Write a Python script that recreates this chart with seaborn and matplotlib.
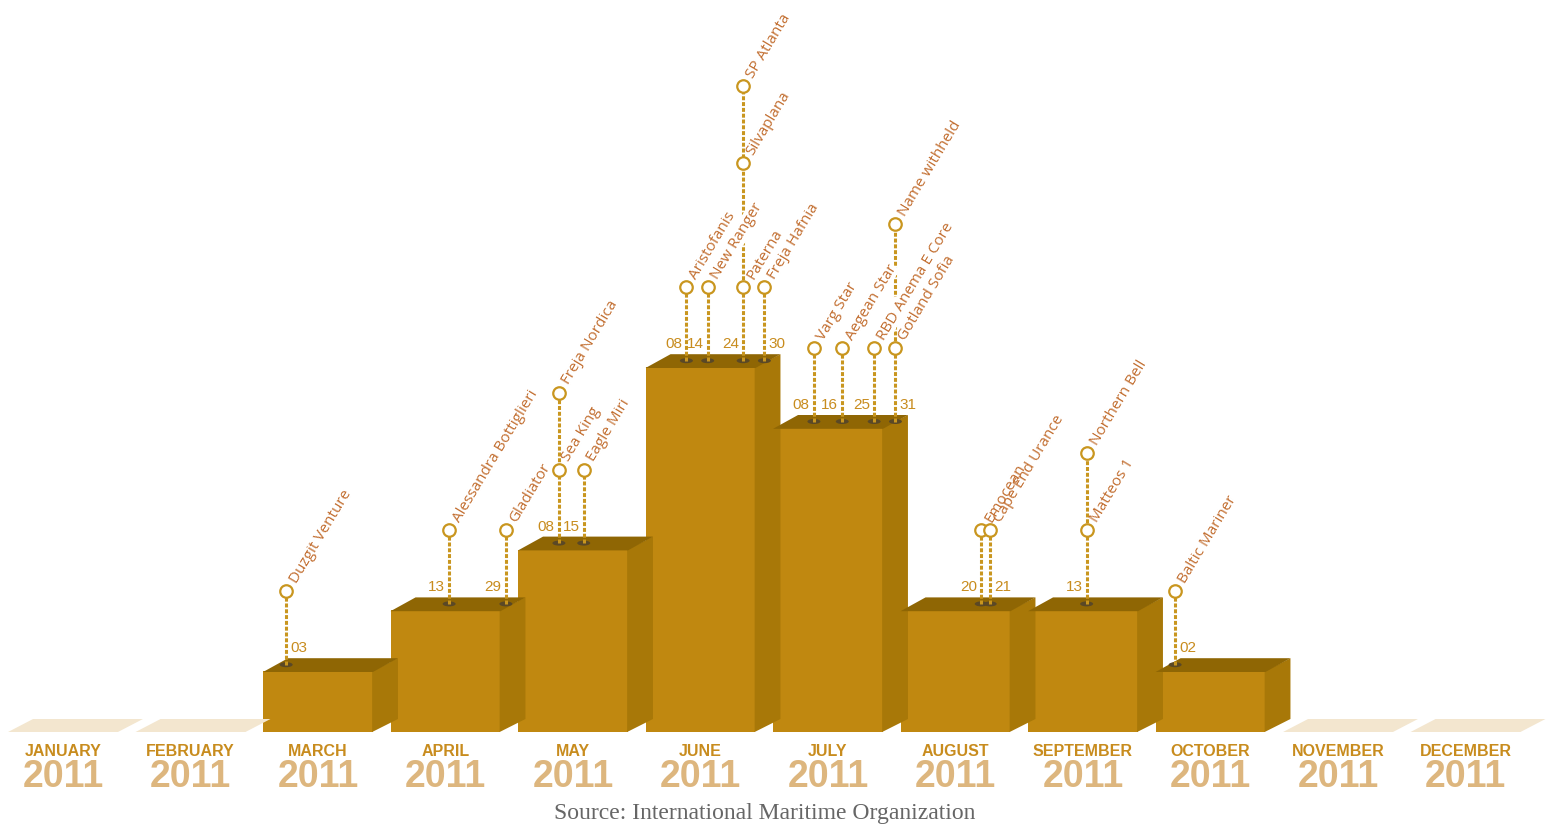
import numpy as np
import pandas as pd
import matplotlib
matplotlib.use("Agg")
import matplotlib.pyplot as plt
import seaborn as sns
from matplotlib.patches import Polygon, Ellipse
import matplotlib.patheffects as pe

# ---------------- data ----------------
months = ["JANUARY", "FEBRUARY", "MARCH", "APRIL", "MAY", "JUNE", "JULY",
          "AUGUST", "SEPTEMBER", "OCTOBER", "NOVEMBER", "DECEMBER"]
year_label = "2011"
hijack_counts = [0, 0, 1, 2, 3, 6, 5, 2, 2, 1, 0, 0]
ship_names = ["Duzgit Venture", "Alessandra Bottiglieri", "Gladiator", "Sea King",
              "Freja Nordica", "Eagle Miri", "Aristofanis", "New Ranger", "Paterna",
              "Silvaplana", "SP Atlanta", "Freja Hafnia", "Varg Star", "Aegean Star",
              "RBD Anema E Core", "Gotland Sofia", "Name withheld", "Emocean",
              "Cape End Urance", "Matteos 1", "Northern Bell", "Baltic Mariner"]
ship_months = ["MARCH", "APRIL", "APRIL", "MAY", "MAY", "MAY", "JUNE", "JUNE", "JUNE",
               "JUNE", "JUNE", "JUNE", "JULY", "JULY", "JULY", "JULY", "JULY",
               "AUGUST", "AUGUST", "SEPTEMBER", "SEPTEMBER", "OCTOBER"]
ship_days = [3, 13, 29, 8, 8, 15, 8, 14, 24, 24, 24, 30, 8, 16, 25, 31, 31, 20, 21, 13, 13, 2]
source_text = "Source: International Maritime Organization"

# ---------------- style ----------------
FRONT = "#c08810"
TOP = "#8f6604"
SIDE = "#a87808"
BEIGE = "#f3e6cf"
MONTH_C = "#c88c1e"
YEAR_C = "#ddb67e"
NAME_C = "#c26e30"
STALK_C = "#c9961f"
BASE_C = "#5a4826"

W, H = 1563, 834
PX_X, PX_Y = 127.5, 60.8
X0_PX, BASE_PX = 63, 732

sns.set_theme(style="white")
plt.rcParams["font.family"] = ["Liberation Sans", "DejaVu Sans"]

fig = plt.figure(figsize=(W / 100, H / 100), dpi=100)
ax = fig.add_axes([0, 0, 1, 1])
df = pd.DataFrame({"month": months, "count": hijack_counts})
sns.barplot(data=df, x="month", y="count", order=months, width=0.862,
            color=FRONT, saturation=1, linewidth=0, ax=ax, zorder=1)
ax.set_xlim(-X0_PX / PX_X, (W - X0_PX) / PX_X)
ax.set_ylim(-(H - BASE_PX) / PX_Y, BASE_PX / PX_Y)
ax.axis("off")

DX, DY = 25 / PX_X, 13 / PX_Y
EPS_X, EPS_Y = 0.8 / PX_X, 0.8 / PX_Y
bars = list(ax.patches)
for bar in bars:
    x0, w, h = bar.get_x(), bar.get_width(), bar.get_height()
    x1 = x0 + w
    if h > 0:
        ax.add_patch(Polygon([(x1 - EPS_X, 0), (x1 + DX, DY), (x1 + DX, h + DY),
                              (x1 - EPS_X, h)],
                             closed=True, facecolor=SIDE, edgecolor="none", zorder=1.5))
        ax.add_patch(Polygon([(x0, h - EPS_Y), (x1, h - EPS_Y), (x1 + DX, h + DY),
                              (x0 + DX, h + DY)],
                             closed=True, facecolor=TOP, edgecolor="none", zorder=1.6))
    else:
        ax.add_patch(Polygon([(x0, 0), (x1, 0), (x1 + DX, DY), (x0 + DX, DY)],
                             closed=True, facecolor=BEIGE, edgecolor="none", zorder=1.6))

# month / year labels
for bar, m in zip(bars, months):
    cx = bar.get_x() + bar.get_width() / 2
    ax.text(cx, -19 / PX_Y, m, ha="center", va="center", fontsize=11.5,
            fontweight="bold", color=MONTH_C)
    ax.text(cx, -45 / PX_Y, year_label, ha="center", va="center", fontsize=27,
            fontweight="bold", color=YEAR_C)

ax.text(5.5, -81 / PX_Y, source_text, ha="center", va="center", fontsize=17,
        color="#666666", family=["Liberation Serif", "DejaVu Serif"])

# ship events
month_idx = {m: i for i, m in enumerate(months)}
groups = {}
for name, m, d in zip(ship_names, ship_months, ship_days):
    groups.setdefault((m, d), []).append(name)

# stalk x positions (day within the month), pushed apart when too close
stalk_x = {}
for (m, d) in groups:
    bar = bars[month_idx[m]]
    stalk_x[(m, d)] = bar.get_x() + bar.get_width() * d / 31 + DX / 2
MIN_SEP = 9 / PX_X
keys = sorted(stalk_x, key=lambda k: stalk_x[k])
for a, b in zip(keys[:-1], keys[1:]):
    gap = stalk_x[b] - stalk_x[a]
    if a[0] == b[0] and gap < MIN_SEP:
        shift = (MIN_SEP - gap) / 2
        stalk_x[a] -= shift
        stalk_x[b] += shift
order_q = {k: i for i, k in enumerate(sorted(stalk_x, key=lambda k: stalk_x[k]))}

FIRST = 80 / PX_Y
STEP = 77 / PX_Y
BIG_STEP = 124 / PX_Y
ZB = 200
for (m, d), names in groups.items():
    bar = bars[month_idx[m]]
    h = bar.get_height()
    sx = stalk_x[(m, d)]
    q = order_q[(m, d)]
    base_y = h + DY / 2
    same_month_days = [dd for (mm, dd) in groups if mm == m]
    first_step = BIG_STEP if any(dd < d for dd in same_month_days) else STEP
    levels = [h + FIRST]
    for i in range(1, len(names)):
        levels.append(levels[-1] + (first_step if i == 1 else STEP))
    top = levels[-1]
    ax.add_patch(Ellipse((sx, base_y), 13 / PX_X, 5 / PX_Y, facecolor=BASE_C,
                         edgecolor="none", zorder=2))
    # names only knock out stalks lying to their right, never their own stalk
    ax.plot([sx, sx], [base_y, top], color=STALK_C, lw=2.2,
            linestyle=(0, (1.3, 0.6)), zorder=ZB - 2 * q + 1, solid_capstyle="butt")
    ax.plot([sx] * len(levels), levels, "o", ms=9, mfc="white", mec=STALK_C,
            mew=1.6, zorder=400)
    for name, lv in zip(names, levels):
        kw = dict(xytext=(5, 6.5), textcoords="offset points", rotation=59,
                  rotation_mode="anchor", ha="left", va="center", fontsize=11,
                  family=["Open Sans", "DejaVu Sans"])
        ax.annotate(name, (sx, lv), color="white", zorder=ZB - 2 * q,
                    path_effects=[pe.withStroke(linewidth=6, foreground="white")], **kw)
        ax.annotate(name, (sx, lv), color=NAME_C, zorder=300, **kw)
    right = d <= 5 or d >= 30 or (m, d - 1) in groups
    ax.annotate(f"{d:02d}", (sx, h), xytext=(3 if right else -3, 16.5),
                textcoords="offset points", ha="left" if right else "right",
                va="center", fontsize=11, color=MONTH_C, zorder=300)

fig.savefig("out.png", dpi=100, facecolor="white")
